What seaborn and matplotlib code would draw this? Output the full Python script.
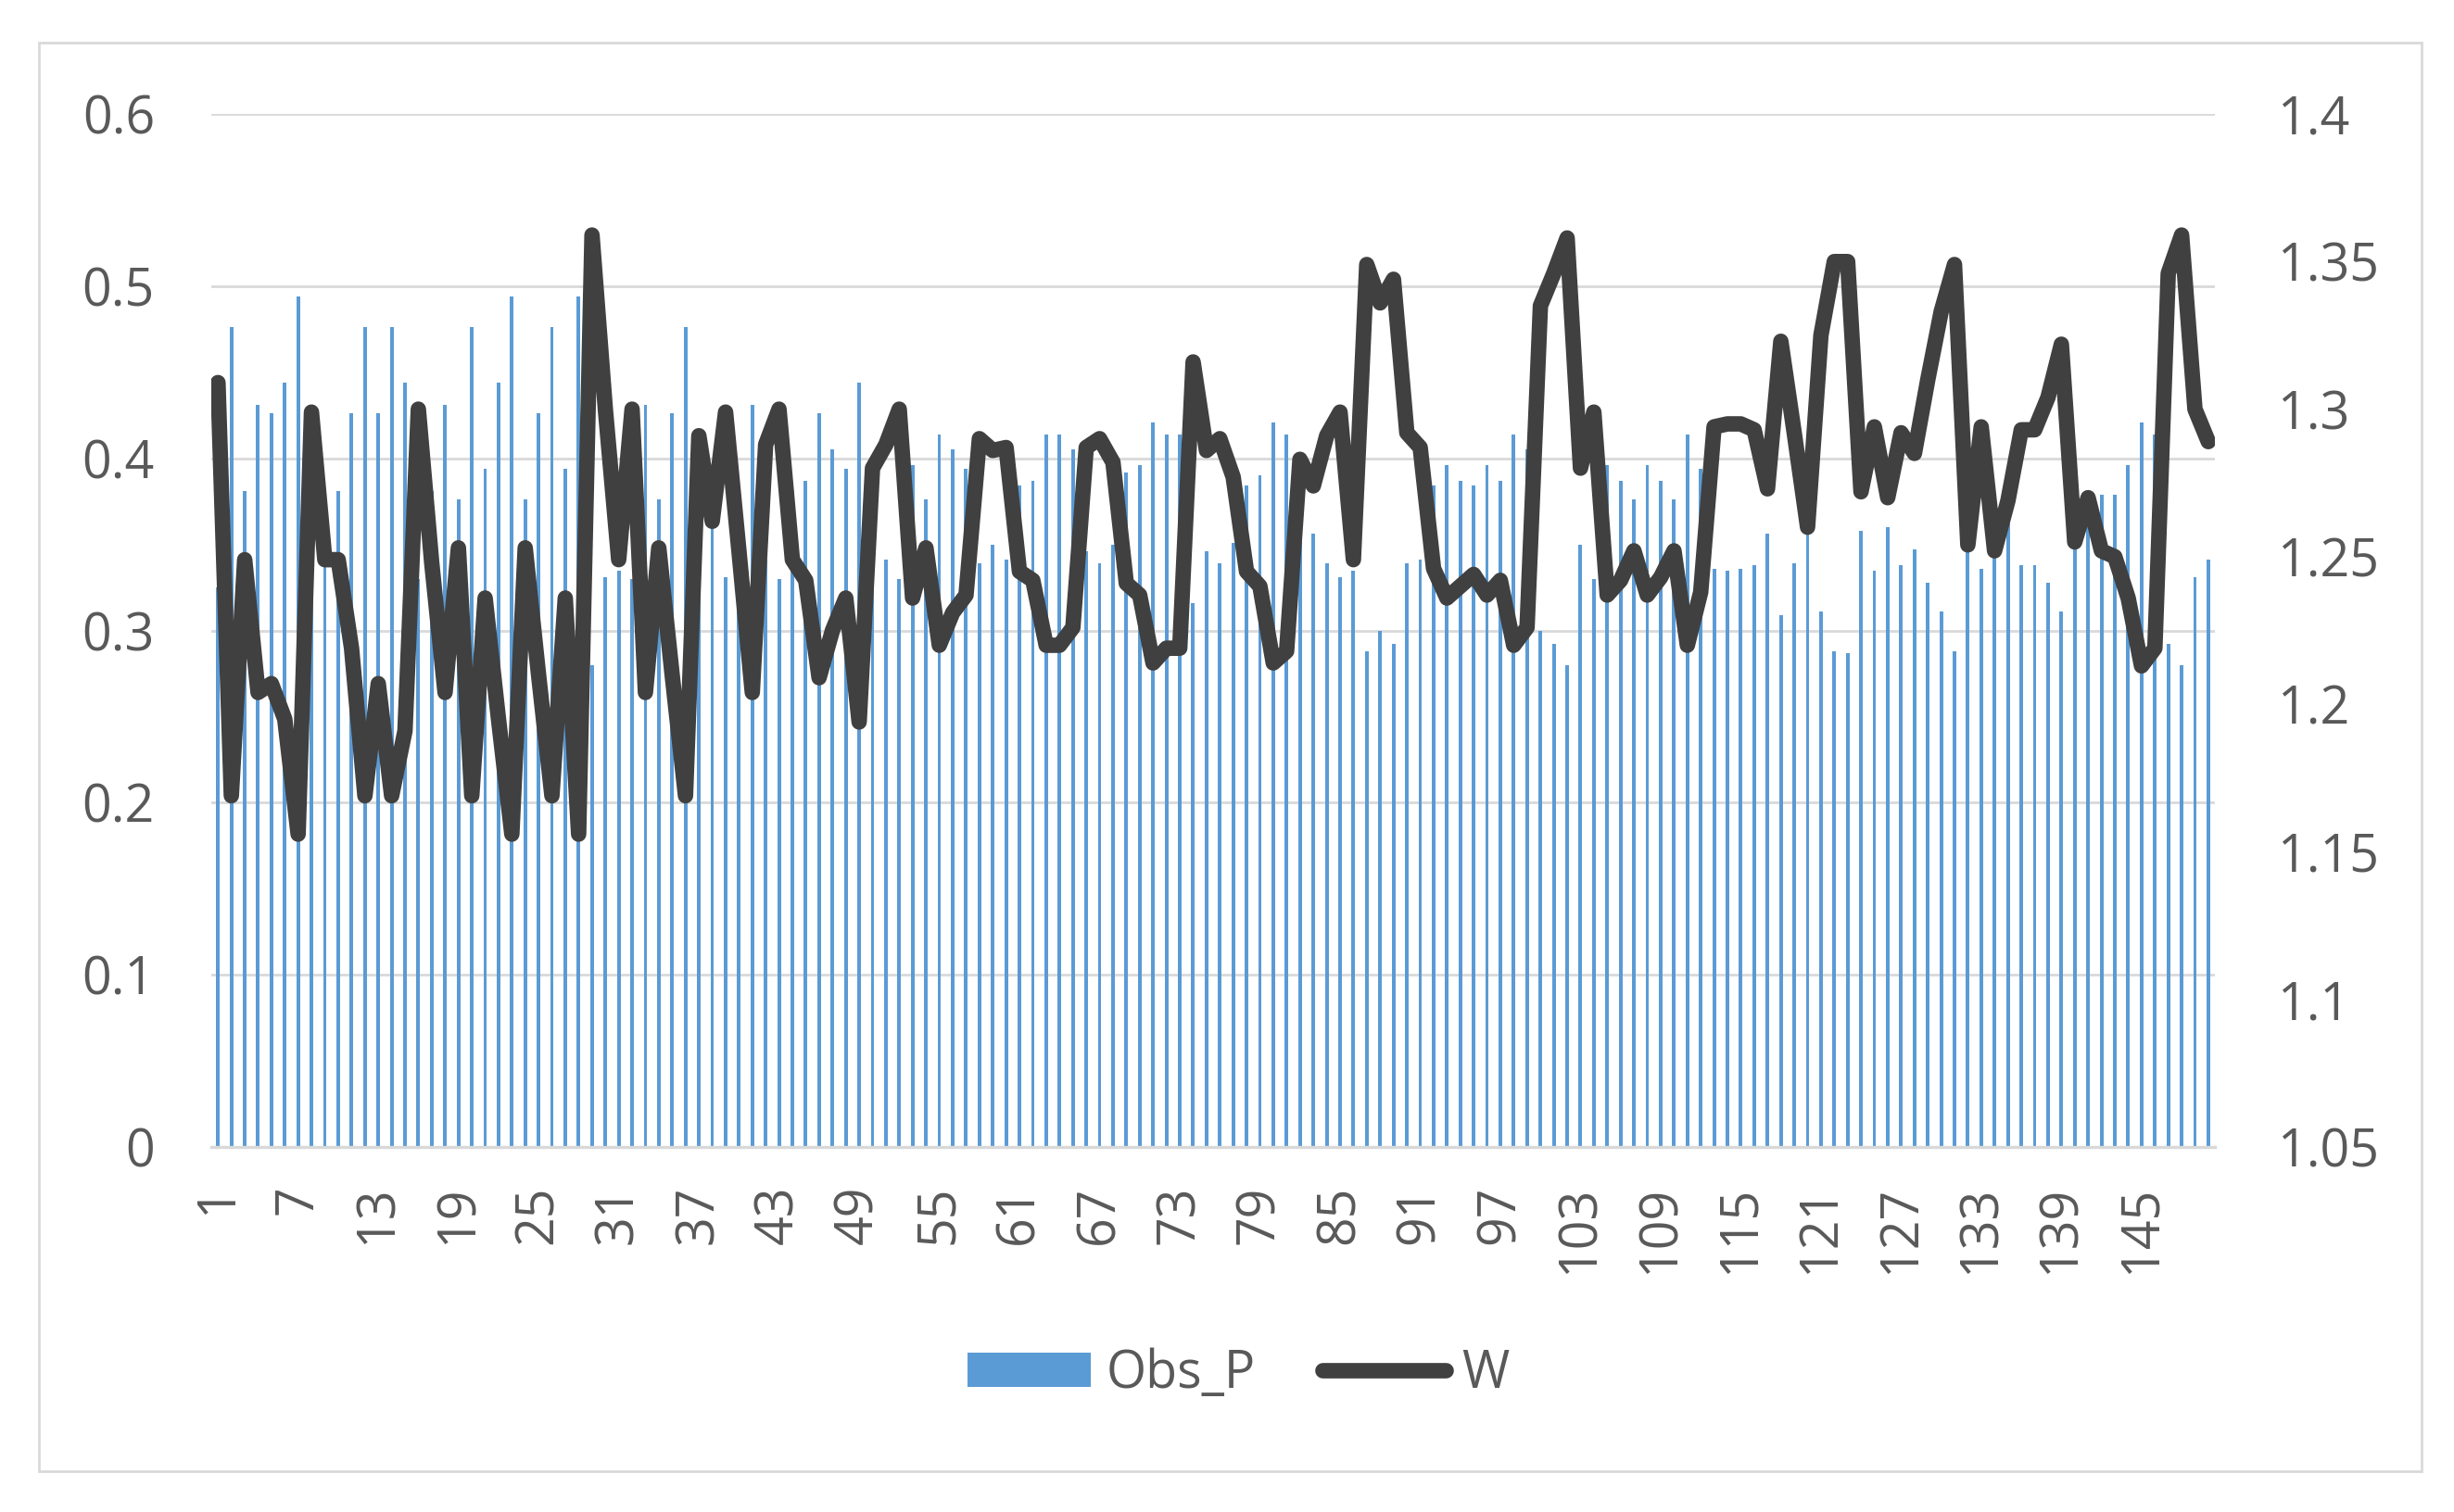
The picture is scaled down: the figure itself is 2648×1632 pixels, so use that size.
import numpy as np
import matplotlib
matplotlib.use('Agg')
import matplotlib.pyplot as plt
import seaborn as sns
from matplotlib.patches import Patch, Rectangle
from matplotlib.lines import Line2D

# data
days = list(range(1, 151))

obs_p = [
    0.325, 0.476, 0.381, 0.431, 0.426, 0.444, 0.494, 0.380, 0.381, 0.381,
    0.426, 0.476, 0.426, 0.476, 0.444, 0.330, 0.381, 0.431, 0.376, 0.476,
    0.394, 0.444, 0.494, 0.376, 0.426, 0.476, 0.394, 0.494, 0.280, 0.331,
    0.335, 0.330, 0.431, 0.376, 0.426, 0.476, 0.400, 0.360, 0.331, 0.381,
    0.431, 0.341, 0.330, 0.381, 0.387, 0.426, 0.405, 0.394, 0.444, 0.390,
    0.341, 0.330, 0.396, 0.376, 0.414, 0.405, 0.394, 0.339, 0.350, 0.341,
    0.384, 0.387, 0.414, 0.414, 0.405, 0.346, 0.339, 0.350, 0.392, 0.396,
    0.421, 0.414, 0.414, 0.316, 0.346, 0.339, 0.351, 0.384, 0.390, 0.421,
    0.414, 0.390, 0.356, 0.339, 0.331, 0.335, 0.288, 0.300, 0.292, 0.339,
    0.341, 0.384, 0.396, 0.387, 0.384, 0.396, 0.387, 0.414, 0.405, 0.300,
    0.292, 0.280, 0.350, 0.330, 0.396, 0.387, 0.376, 0.396, 0.387, 0.376,
    0.414, 0.394, 0.336, 0.335, 0.336, 0.338, 0.356, 0.309, 0.339, 0.356,
    0.311, 0.288, 0.287, 0.358, 0.335, 0.360, 0.338, 0.347, 0.328, 0.311,
    0.288, 0.346, 0.336, 0.380, 0.362, 0.338, 0.338, 0.328, 0.311, 0.360,
    0.380, 0.379, 0.379, 0.396, 0.421, 0.414, 0.292, 0.280, 0.331, 0.341,
]

w = [
    1.309, 1.169, 1.249, 1.204, 1.207, 1.195, 1.156, 1.299, 1.249, 1.249,
    1.219, 1.169, 1.207, 1.169, 1.191, 1.300, 1.248, 1.204, 1.253, 1.169,
    1.236, 1.195, 1.156, 1.253, 1.210, 1.169, 1.236, 1.156, 1.359, 1.300,
    1.249, 1.300, 1.204, 1.253, 1.210, 1.169, 1.291, 1.262, 1.299, 1.252,
    1.204, 1.288, 1.300, 1.249, 1.242, 1.209, 1.225, 1.236, 1.194, 1.280,
    1.288, 1.300, 1.236, 1.253, 1.220, 1.231, 1.237, 1.290, 1.286, 1.287,
    1.245, 1.242, 1.220, 1.220, 1.226, 1.287, 1.290, 1.282, 1.241, 1.237,
    1.214, 1.219, 1.219, 1.316, 1.286, 1.290, 1.277, 1.245, 1.240, 1.214,
    1.218, 1.283, 1.274, 1.291, 1.299, 1.249, 1.349, 1.336, 1.344, 1.292,
    1.287, 1.246, 1.236, 1.240, 1.244, 1.237, 1.242, 1.220, 1.226, 1.335,
    1.346, 1.358, 1.280, 1.299, 1.237, 1.242, 1.252, 1.237, 1.243, 1.252,
    1.220, 1.238, 1.294, 1.295, 1.295, 1.293, 1.273, 1.323, 1.292, 1.260,
    1.325, 1.350, 1.350, 1.272, 1.294, 1.270, 1.292, 1.285, 1.310, 1.333,
    1.349, 1.254, 1.294, 1.252, 1.269, 1.293, 1.293, 1.304, 1.322, 1.255,
    1.270, 1.252, 1.250, 1.236, 1.213, 1.219, 1.346, 1.359, 1.300, 1.289,
]

left_ticks = [0, 0.1, 0.2, 0.3, 0.4, 0.5, 0.6]
right_ticks = [1.05, 1.1, 1.15, 1.2, 1.25, 1.3, 1.35, 1.4]

BAR_COLOR = '#5b9bd5'
LINE_COLOR = '#404040'
TEXT_COLOR = '#595959'
GRID_COLOR = '#d9d9d9'
LINE_W = 6.0

sns.set_theme(style='white')
plt.rcParams['font.family'] = ['Open Sans', 'DejaVu Sans']

fig = plt.figure(figsize=(13.24, 8.16), dpi=200)
ax = fig.add_axes([0.0861, 0.2414, 0.8165, 0.6832])

# bars on the left axis
sns.barplot(x=days, y=obs_p, native_scale=True, width=0.27, color=BAR_COLOR,
            saturation=1, errorbar=None, linewidth=0, ax=ax)
ax.set_ylim(0, 0.6)
ax.set_yticks(left_ticks)
ax.set_yticklabels([f'{t:g}' for t in left_ticks])
ax.set_xlim(0.5, 150.5)
ax.set_xticks(days[::6])
ax.set_xticklabels([str(d) for d in days[::6]], rotation=90)
ax.yaxis.grid(True, color=GRID_COLOR, lw=1.0)
ax.set_axisbelow(True)
ax.tick_params(axis='x', length=0, pad=15, labelsize=20, labelcolor=TEXT_COLOR)
ax.tick_params(axis='y', length=0, pad=22, labelsize=20, labelcolor=TEXT_COLOR)
for s in ['top', 'left', 'right']:
    ax.spines[s].set_visible(False)
ax.spines['bottom'].set_color(GRID_COLOR)
ax.spines['bottom'].set_linewidth(1.2)
ax.set_xlabel('')
ax.set_ylabel('')

# W line on the right axis
ax2 = ax.twinx()
sns.lineplot(x=days, y=w, color=LINE_COLOR, linewidth=LINE_W,
             solid_joinstyle='round', solid_capstyle='round', ax=ax2)
ax2.set_ylim(1.05, 1.4)
ax2.set_yticks(right_ticks)
ax2.set_yticklabels([f'{t:g}' for t in right_ticks])
ax2.tick_params(axis='y', length=0, pad=24, labelsize=20, labelcolor=TEXT_COLOR)
for s in ax2.spines.values():
    s.set_visible(False)
ax2.set_xlim(0.5, 150.5)
ax2.set_ylabel('')

handles = [Patch(facecolor=BAR_COLOR, edgecolor='none', label='Obs_P'),
           Line2D([], [], color=LINE_COLOR, lw=LINE_W, solid_capstyle='round', label='W')]
fig.legend(handles=handles, loc='center', bbox_to_anchor=(0.5045, 0.091), ncol=2,
           frameon=False, fontsize=20, handlelength=2.4, handleheight=0.65,
           handletextpad=0.3, columnspacing=1.3, labelcolor=TEXT_COLOR)

# outer chart border
fig.patches.append(Rectangle((0.0159, 0.027), 0.9709, 0.9448, transform=fig.transFigure,
                             fill=False, edgecolor=GRID_COLOR, lw=1.0))

plt.savefig('out.png', dpi=200)
plt.close()
